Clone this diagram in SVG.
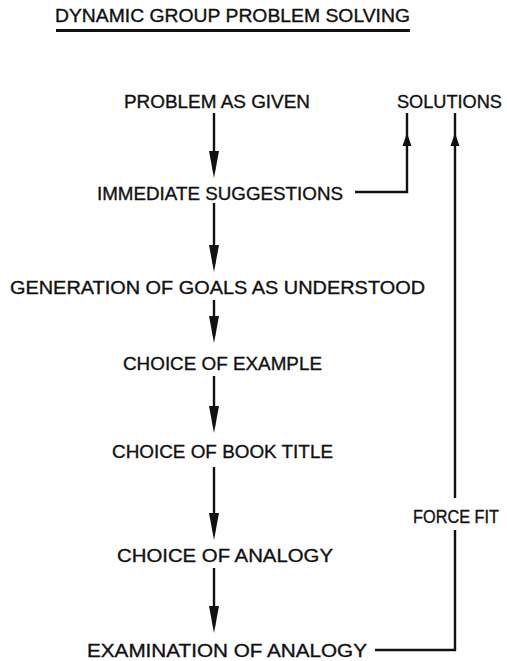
<svg xmlns="http://www.w3.org/2000/svg" width="507" height="661" viewBox="0 0 507 661">
<style>
text{font-family:"Liberation Sans",Arial,sans-serif;font-size:18.5px;fill:#111;stroke:#111;stroke-width:0.35;}
.t{font-size:18px;}
.ln{stroke:#111;stroke-width:2.4;fill:none;}
.ah{fill:#111;}
</style>
<defs>
<path id="down" d="M-5,-27 L5,-27 L0,0 Z"/>
<path id="up" d="M0,0 L4.5,13 L-4.5,13 Z"/>
</defs>
<rect width="507" height="661" fill="#fff"/>
<g id="title">
<text class="t" x="55" y="22" textLength="355" lengthAdjust="spacingAndGlyphs">DYNAMIC GROUP PROBLEM SOLVING</text>
<line x1="56" y1="30.5" x2="410" y2="30.5" stroke="#111" stroke-width="3.2"/>
</g>
<g id="n-problem"><text x="124" y="108" textLength="186" lengthAdjust="spacingAndGlyphs">PROBLEM AS GIVEN</text></g>
<g id="n-solutions"><text x="397" y="108" textLength="105" lengthAdjust="spacingAndGlyphs">SOLUTIONS</text></g>
<g id="n-immediate"><text x="97" y="200" textLength="246" lengthAdjust="spacingAndGlyphs">IMMEDIATE SUGGESTIONS</text></g>
<g id="n-goals"><text x="10" y="294" textLength="415" lengthAdjust="spacingAndGlyphs">GENERATION OF GOALS AS  UNDERSTOOD</text></g>
<g id="n-example"><text x="123" y="370" textLength="199" lengthAdjust="spacingAndGlyphs">CHOICE OF EXAMPLE</text></g>
<g id="n-book"><text x="112" y="458" textLength="221" lengthAdjust="spacingAndGlyphs">CHOICE OF BOOK TITLE</text></g>
<g id="n-analogy"><text x="117" y="562" textLength="216" lengthAdjust="spacingAndGlyphs">CHOICE OF ANALOGY</text></g>
<g id="n-exam"><text x="87" y="657" textLength="280" lengthAdjust="spacingAndGlyphs">EXAMINATION OF ANALOGY</text></g>
<g id="l-forcefit"><text x="413" y="523" textLength="86" lengthAdjust="spacingAndGlyphs">FORCE FIT</text></g>
<g id="connectors">
<line class="ln" x1="214" y1="113" x2="214" y2="170"/>
<use href="#down" class="ah" x="214" y="178"/>
<line class="ln" x1="214" y1="203" x2="214" y2="264"/>
<use href="#down" class="ah" x="214" y="272"/>
<line class="ln" x1="214" y1="300" x2="214" y2="336"/>
<use href="#down" class="ah" x="214" y="343"/>
<line class="ln" x1="214" y1="376" x2="214" y2="426"/>
<use href="#down" class="ah" x="214" y="433"/>
<line class="ln" x1="214" y1="467" x2="214" y2="532"/>
<use href="#down" class="ah" x="214" y="540"/>
<line class="ln" x1="214" y1="568" x2="214" y2="626"/>
<use href="#down" class="ah" x="214" y="633"/>
<polyline class="ln" points="355,192 407,192 407,113"/>
<use href="#up" class="ah" x="407" y="133"/>
<line class="ln" x1="455" y1="113" x2="455" y2="498"/>
<use href="#up" class="ah" x="455" y="133"/>
<polyline class="ln" points="455,530 455,650 375,650"/>
</g>
</svg>
